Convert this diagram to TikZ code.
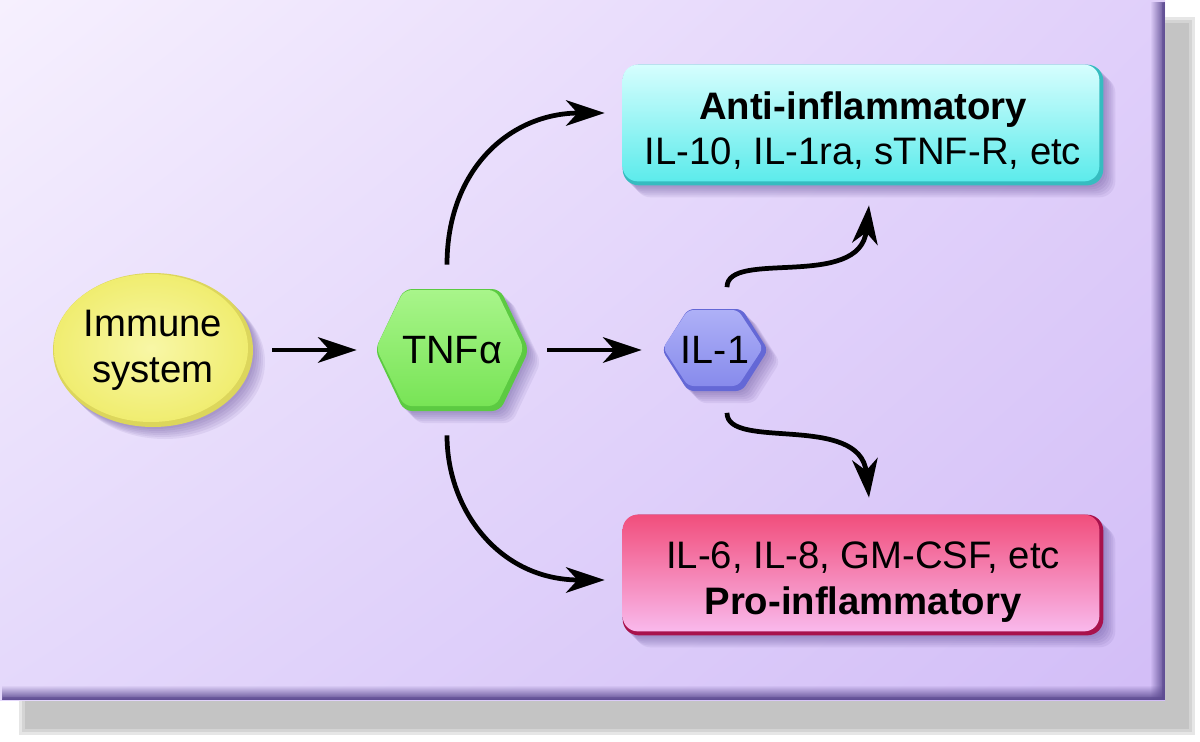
\documentclass[tikz,border=0pt]{standalone}
\usepackage{fontspec}
\setmainfont{Liberation Sans}
\usetikzlibrary{arrows.meta,calc,shapes.geometric,fadings,shadings}
\definecolor{pUL}{HTML}{F6F0FE}
\definecolor{pUR}{HTML}{E0CFFA}
\definecolor{pLL}{HTML}{E4D8FB}
\definecolor{pLR}{HTML}{D2BDF7}
\definecolor{bevel}{HTML}{5E4C92}
\definecolor{shA}{HTML}{E6E6E6}
\definecolor{shB}{HTML}{D4D4D4}
\definecolor{shC}{HTML}{C4C4C4}
\definecolor{shadowc}{HTML}{5A4690}
\definecolor{immRim}{HTML}{DCD65C}
\definecolor{immL}{HTML}{F8F7A6}
\definecolor{immD}{HTML}{F0ED70}
\definecolor{tnfRim}{HTML}{5CCA42}
\definecolor{tnfL}{HTML}{A8F58A}
\definecolor{tnfD}{HTML}{78E456}
\definecolor{ilRim}{HTML}{6468D6}
\definecolor{ilL}{HTML}{AEB0F7}
\definecolor{ilD}{HTML}{878BEC}
\definecolor{antiRim}{HTML}{36BCC0}
\definecolor{antiL}{HTML}{D6FEFE}
\definecolor{antiM}{HTML}{80F2F2}
\definecolor{antiD}{HTML}{5CEBEB}
\definecolor{proRim}{HTML}{A8124C}
\definecolor{proL}{HTML}{F14E7C}
\definecolor{proM}{HTML}{F67EB2}
\definecolor{proD}{HTML}{F9B9EC}
\pgfdeclarelayer{back}
\pgfdeclarelayer{deco}
\pgfsetlayers{back,deco,main}
\tikzfading[name=fadeR, left color=transparent!100, right color=transparent!0]
\tikzfading[name=fadeD, top color=transparent!100, bottom color=transparent!0]
\newcommand\myhex[3]{(-#1,0) -- (-#2,-#3) -- (#2,-#3) -- (#1,0) -- (#2,#3) -- (-#2,#3) -- cycle}
\newcommand\txtsize{\fontsize{21.8}{26}\selectfont}
\begin{document}
\begin{tikzpicture}[x=0.02cm,y=-0.02cm,
  arr/.style={line width=2.7pt, -{Stealth[length=22pt,width=14.5pt,inset=6.5pt]}},
  txt/.style={font=\txtsize, align=center, inner sep=0pt},
  sh/.style={fill=shadowc, opacity=0.09},
  boxnode/.style={minimum width=9.6cm, minimum height=2.4cm, inner sep=0pt}]
\useasboundingbox (0,0) rectangle (1200,741);

% ---------- nodes ----------
\node[txt, ellipse, minimum width=4cm, minimum height=3.08cm] (imm) at (153,350) {Immune\\system};
\node[txt, minimum width=3.8cm, minimum height=3.4cm, font=\fontsize{22.5}{26}\selectfont] (tnf) at (452,350) {TNFα};
\node[txt, minimum width=2.92cm, minimum height=2.5cm, font=\fontsize{22.5}{26}\selectfont] (il1) at (715,350) {IL-1};
\node[boxnode, label={[txt, yshift=-3.1pt]center:{\textbf{Anti-inflammatory}\\IL-10, IL-1ra, sTNF-R, etc}}] (anti) at (863,125) {};
\node[boxnode, label={[txt, yshift=-4pt]center:{IL-6, IL-8, GM-CSF, etc\\\textbf{Pro-inflammatory}}}] (pro) at (863,575) {};

% ---------- background panel ----------
\begin{pgfonlayer}{back}
\fill[shA] (19,17) rectangle (1195,735);
\fill[shB] (22,20) rectangle (1192,732);
\fill[shC] (25,23) rectangle (1189,729);
\shade[upper left=pUL, upper right=pUR, lower left=pLL, lower right=pLR] (0,0) rectangle (1165,700);
\fill[bevel, path fading=fadeR] (1150,2) rectangle (1165,700);
\fill[bevel, path fading=fadeD] (2,685) rectangle (1165,700);
\fill[bevel, opacity=0.5] (1162,3) rectangle (1165,700);
\fill[bevel, opacity=0.5] (3,697) rectangle (1165,700);
\end{pgfonlayer}

% ---------- node bodies ----------
\begin{pgfonlayer}{deco}
% immune system ellipse
\foreach \s in {2,4,6,8,10,12}
  \fill[sh, shift={(imm)}] (\s,\s) ellipse [x radius=100, y radius=77];
\fill[immRim, shift={(imm)}] (0,0) ellipse [x radius=100, y radius=77];
\shade[inner color=immL, outer color=immD, shift={(imm)}] (-2,-2) ellipse [x radius=97, y radius=74];
% TNF hexagon
\foreach \s in {2,4,6,8,10,12}
  \fill[sh, shift={(tnf)}, shift={(\s,\s)}, rounded corners=0.16cm] \myhex{77}{48}{61};
\fill[tnfRim, shift={(tnf)}, rounded corners=0.16cm] \myhex{77}{48}{61};
\shade[top color=tnfL, bottom color=tnfD, shift={(tnf)}, shift={(-2,-2)}, rounded corners=0.15cm] \myhex{74}{46}{58};
% IL-1 hexagon
\foreach \s in {2,4,6,8,10,12}
  \fill[sh, shift={(il1)}, shift={(\s,\s)}, rounded corners=0.12cm] \myhex{53}{27}{41};
\fill[ilRim, shift={(il1)}, rounded corners=0.12cm] \myhex{53}{27}{41};
\shade[top color=ilL, bottom color=ilD, shift={(il1)}, shift={(-2,-2)}, rounded corners=0.11cm] \myhex{50}{25}{38};
% anti-inflammatory box
\foreach \s in {2,4,6,8,10,12}
  \fill[sh, rounded corners=0.32cm] ($(anti.north west)+(\s,\s)$) rectangle ($(anti.south east)+(\s,\s)$);
\fill[antiRim, rounded corners=0.32cm] (anti.north west) rectangle (anti.south east);
\shade[top color=antiL, middle color=antiM, bottom color=antiD, rounded corners=0.3cm] (anti.north west) rectangle ($(anti.south east)+(-4,-4)$);
% pro-inflammatory box
\foreach \s in {2,4,6,8,10,12}
  \fill[sh, rounded corners=0.32cm] ($(pro.north west)+(\s,\s)$) rectangle ($(pro.south east)+(\s,\s)$);
\fill[proRim, rounded corners=0.32cm] (pro.north west) rectangle (pro.south east);
\shade[top color=proL, middle color=proM, bottom color=proD, rounded corners=0.3cm] (pro.north west) rectangle ($(pro.south east)+(-4,-4)$);
\end{pgfonlayer}

% ---------- connectors ----------
\draw[arr, shorten <=0.38cm] (imm) -- (tnf);
\draw[arr] (tnf) -- (il1);
\draw[arr] ($(tnf.north)+(-5,0)$) .. controls +(0,-95) and +(-95,0) .. ($(anti.west)+(-18,-12)$);
\draw[arr] ($(tnf.south)+(-5,0)$) .. controls +(0,75) and +(-105,0) .. ($(pro.west)+(-18,5)$);
\draw[arr] ($(il1.north)+(12,0)$) .. controls +(0,-38) and +(-9,85) .. ($(anti.south)+(6,20)$);
\draw[arr] ($(il1.south)+(12,0)$) .. controls +(0,38) and +(-9,-85) .. ($(pro.north)+(6,-17)$);
\end{tikzpicture}
\end{document}
